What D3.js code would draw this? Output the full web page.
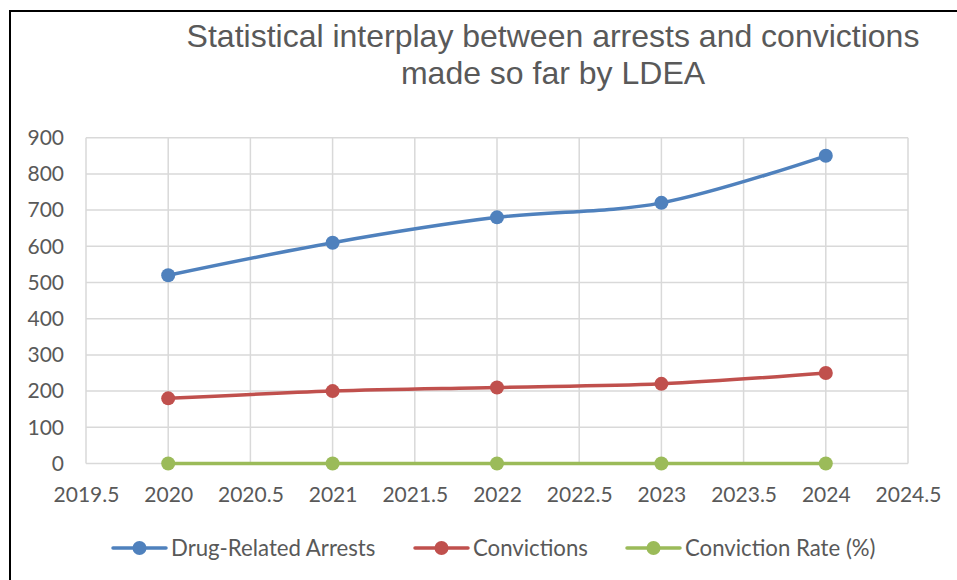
<!DOCTYPE html>
<html><head><meta charset="utf-8">
<script src="https://cdn.jsdelivr.net/npm/d3@7"></script>
<style>body{margin:0;background:#fff}svg{display:block}</style>
</head><body>
<svg id="c" width="957" height="580"></svg>
<script>
const years = [2020, 2021, 2022, 2023, 2024];
const arrests = [520, 610, 680, 720, 850];
const convictions = [180, 200, 210, 220, 250];
const convictionRate = [0, 0, 0, 0, 0];
const seriesNames = ["Drug-Related Arrests", "Convictions", "Conviction Rate (%)"];
const seriesColors = ["#4F81BD", "#C0504D", "#9BBB59"];
const xTicks = [2019.5, 2020, 2020.5, 2021, 2021.5, 2022, 2022.5, 2023, 2023.5, 2024, 2024.5];
const yTicks = [0, 100, 200, 300, 400, 500, 600, 700, 800, 900];
const titleLines = ["Statistical interplay between arrests and convictions", "made so far by LDEA"];

const svg = d3.select("#c");
svg.append("rect").attr("x", 10).attr("y", 11).attr("width", 1000).attr("height", 700)
  .attr("fill", "#fff").attr("stroke", "#000").attr("stroke-width", 2);

const x = d3.scaleLinear().domain([2019.5, 2024.5]).range([86, 908]);
const y = d3.scaleLinear().domain([0, 900]).range([463.5, 137.7]);

const tickFont = "Lato, 'Open Sans', sans-serif";
const g = svg.append("g");
g.selectAll("line.v").data(xTicks).join("line").attr("class", "v")
  .attr("x1", d => x(d)).attr("x2", d => x(d)).attr("y1", y(900)).attr("y2", y(0))
  .attr("stroke", "#d9d9d9").attr("stroke-width", 1.5);
g.selectAll("line.h").data(yTicks).join("line").attr("class", "h")
  .attr("x1", x(2019.5)).attr("x2", x(2024.5)).attr("y1", d => y(d)).attr("y2", d => y(d))
  .attr("stroke", "#d9d9d9").attr("stroke-width", 1.5);

const yAxis = d3.axisLeft(y).tickValues(yTicks).tickSize(0).tickPadding(22);
const ya = svg.append("g").attr("transform", `translate(${x(2019.5)},0)`).call(yAxis);
ya.select(".domain").remove();
ya.selectAll("text").attr("font-family", tickFont).attr("font-size", 21).attr("fill", "#595959");

const xAxis = d3.axisBottom(x).tickValues(xTicks).tickSize(0).tickPadding(24).tickFormat(d => String(d));
const xa = svg.append("g").attr("transform", `translate(0,${y(0)})`).call(xAxis);
xa.select(".domain").remove();
xa.selectAll("text").attr("font-family", tickFont).attr("font-size", 21).attr("fill", "#595959");

const allSeries = [arrests, convictions, convictionRate];
const line = d3.line().x((d, i) => x(years[i])).y(d => y(d)).curve(d3.curveCatmullRom.alpha(0));
allSeries.slice().reverse().forEach((vals, ri) => {
  const si = allSeries.length - 1 - ri;
  svg.append("path").datum(vals).attr("d", line).attr("fill", "none")
    .attr("stroke", seriesColors[si]).attr("stroke-width", 3.5).attr("stroke-linecap", "round");
  svg.selectAll(null).data(vals).join("circle")
    .attr("cx", (d, i) => x(years[i])).attr("cy", d => y(d)).attr("r", 7)
    .attr("fill", seriesColors[si]);
});

const t = svg.append("text").attr("text-anchor", "middle").attr("font-family", "'Liberation Sans', Arial, sans-serif")
  .attr("font-size", 32).attr("fill", "#595959");
titleLines.forEach((s, i) => t.append("tspan").attr("x", 553).attr("y", 47 + i * 37).text(s));

const legX = [113, 415, 627];
const lg = svg.append("g");
seriesNames.forEach((n, i) => {
  const gg = lg.append("g").attr("transform", `translate(${legX[i]},548)`);
  gg.append("line").attr("x1", 0).attr("x2", 53).attr("stroke", seriesColors[i]).attr("stroke-width", 3.5).attr("stroke-linecap", "round");
  gg.append("circle").attr("cx", 26.5).attr("r", 7).attr("fill", seriesColors[i]);
  gg.append("text").attr("x", 58).attr("dy", "0.35em").attr("font-family", tickFont).attr("font-size", 22.2)
    .attr("fill", "#595959").text(n);
});
</script>
</body></html>
